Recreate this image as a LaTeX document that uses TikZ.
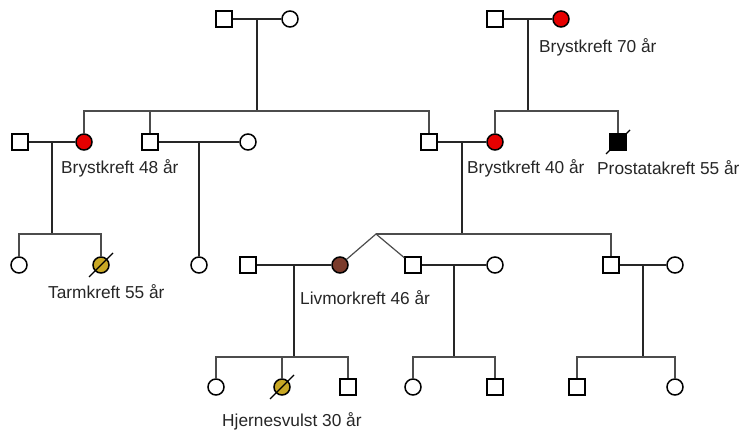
\documentclass[tikz,border=0pt]{standalone}
\usepackage{fontspec}
\setmainfont{Liberation Sans}
\usepackage{tikz}
\usetikzlibrary{positioning, calc}

\definecolor{cancerred}{HTML}{E60000}
\definecolor{cancerbrown}{HTML}{7B3B2B}
\definecolor{canceryellow}{HTML}{C9A825}

\begin{document}
\begin{tikzpicture}[
        x=1pt, y=-1pt,
        font=\fontsize{17.3}{20}\selectfont,
        male_node/.style = {rectangle, draw=black, fill=white, line width=1.5pt, minimum size=16pt, inner sep=0pt},
        female_node/.style = {circle, draw=black, fill=white, line width=1.5pt, minimum size=16pt, inner sep=0pt},
        couple_line/.style = {draw, line width=1.4pt, color=black!85},
        descent_line/.style = {draw, line width=1.4pt, color=black!85},
        sib_line/.style = {draw, line width=1.2pt, color=black!70},
        slash_line/.style = {draw, line width=1.3pt, color=black},
        label_text/.style = {anchor=west, inner sep=0pt, text=black!85}
    ]
    \useasboundingbox (0,0) rectangle (739,430);

    % Generation I
    \node [male_node] (gf1) at (224,19) {};
    \node [female_node] (gm1) at (290,19) {};
    \node [male_node] (gf2) at (495,19) {};
    \node [female_node, fill=cancerred] (gm2) at (561,19) {};
    \node [label_text] (lab_gm2) at (539,47) {Brystkreft 70 år};

    % Generation II
    \node [male_node] (p1) at (20,142) {};
    \node [female_node, fill=cancerred] (a1) at (84,142) {};
    \node [male_node] (b1) at (150,142) {};
    \node [female_node] (b1w) at (248,142) {};
    \node [male_node] (c1) at (429,142) {};
    \node [female_node, fill=cancerred] (c1w) at (495,142) {};
    \node [male_node, fill=black] (d1) at (618,142) {};
    \node [label_text] (lab_a1) at (61,168) {Brystkreft 48 år};
    \node [label_text] (lab_c1w) at (467,168) {Brystkreft 40 år};
    \node [label_text] (lab_d1) at (597,168) {Prostatakreft 55 år};

    % Generation III
    \node [female_node] (e1) at (19,265) {};
    \node [female_node, fill=canceryellow] (e2) at (101,265) {};
    \node [female_node] (f1) at (199,265) {};
    \node [male_node] (g1) at (248,265) {};
    \node [female_node, fill=cancerbrown] (g2) at (340,265) {};
    \node [male_node] (h1) at (413,265) {};
    \node [female_node] (h1w) at (495,265) {};
    \node [male_node] (i1) at (611,265) {};
    \node [female_node] (i1w) at (675,265) {};
    \node [label_text] (lab_e2) at (48,292) {Tarmkreft 55 år};
    \node [label_text] (lab_g2) at (300,298) {Livmorkreft 46 år};

    % Generation IV
    \node [female_node] (j1) at (216,387) {};
    \node [female_node, fill=canceryellow] (j2) at (282,387) {};
    \node [male_node] (j3) at (348,387) {};
    \node [female_node] (k1) at (413,387) {};
    \node [male_node] (k2) at (495,387) {};
    \node [male_node] (l1) at (577,387) {};
    \node [female_node] (l2) at (675,387) {};
    \node [label_text] (lab_j2) at (222,421) {Hjernesvulst 30 år};

    % Couples and their midpoints
    \foreach \m/\f/\c in {gf1/gm1/cm1, gf2/gm2/cm2, p1/a1/cm3, b1/b1w/cm4, c1/c1w/cm5, g1/g2/cm6, h1/h1w/cm7, i1/i1w/cm8} {
        \draw [couple_line] (\m) -- (\f);
        \coordinate (\c) at ($(\m)!0.5!(\f)$);
    }

    % Joints of the sibships
    \coordinate (sj1) at (cm1 |- 0,111);
    \coordinate (sj2) at (cm2 |- 0,111);
    \coordinate (sj3) at (cm3 |- 0,234);
    \coordinate (sj5) at (cm5 |- 0,234);
    \coordinate (twin) at (376,234);
    \coordinate (sj6) at (cm6 |- 0,357);
    \coordinate (sj7) at (cm7 |- 0,357);
    \coordinate (sj8) at (cm8 |- 0,357);

    % Descent lines
    \draw [descent_line] (cm1) -- (sj1);
    \draw [descent_line] (cm2) -- (sj2);
    \draw [descent_line] (cm3) -- (sj3);
    \draw [descent_line] (cm4) -- (f1);
    \draw [descent_line] (cm5) -- (sj5);
    \draw [descent_line] (cm6) -- (sj6);
    \draw [descent_line] (cm7) -- (sj7);
    \draw [descent_line] (cm8) -- (sj8);

    % Sibship lines
    \draw [sib_line] (a1.north) |- (sj1) -| (c1.north);
    \draw [sib_line] (b1.north) -- (b1.north |- sj1);
    \draw [sib_line] (c1w.north) |- (sj2) -| (d1.north);
    \draw [sib_line] (e1.north) |- (sj3) -| (e2.north);
    \draw [sib_line] (twin) -| (i1.north);
    \draw [sib_line] (g2) -- (twin) -- (h1);
    \draw [sib_line] (j1.north) |- (sj6) -| (j3.north);
    \draw [sib_line] (j2.north) -- (j2.north |- sj6);
    \draw [sib_line] (k1.north) |- (sj7) -| (k2.north);
    \draw [sib_line] (l1.north) |- (sj8) -| (l2.north);

    % Deceased
    \foreach \n in {d1, e2, j2} {
        \draw [slash_line] ($(\n.center)+(-12pt,-12pt)$) -- ($(\n.center)+(12pt,12pt)$);
    }

\end{tikzpicture}
\end{document}
